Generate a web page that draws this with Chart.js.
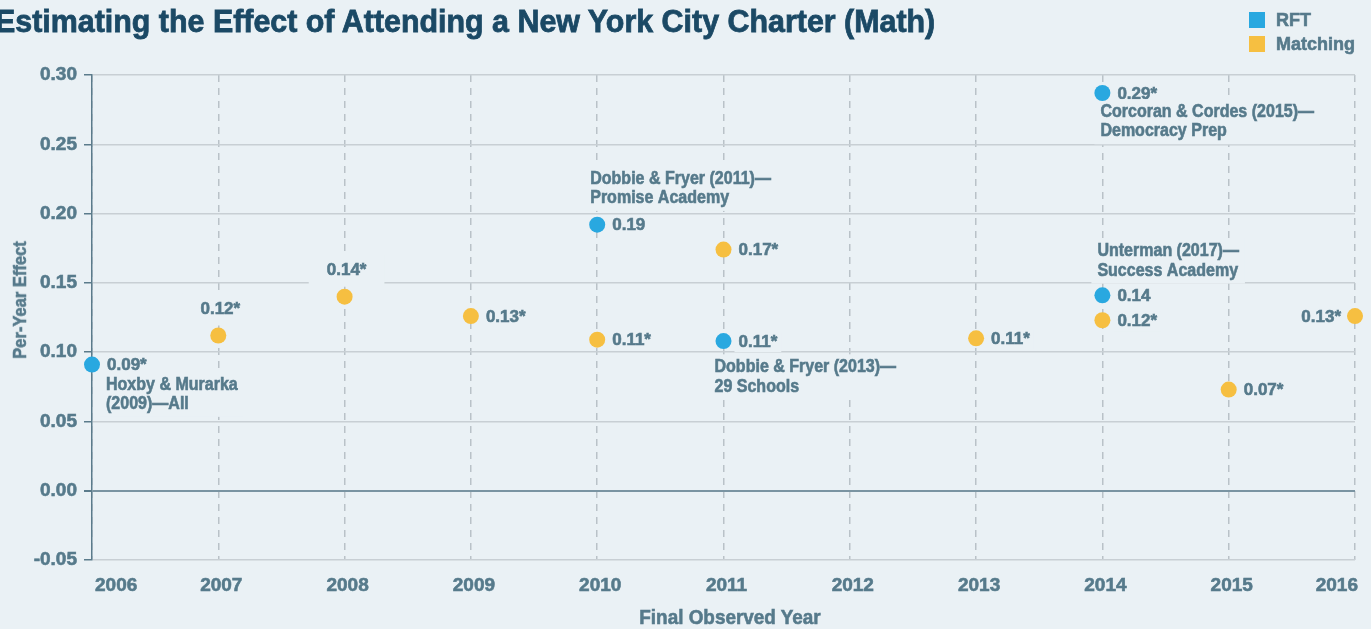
<!DOCTYPE html>
<html>
<head>
<meta charset="utf-8">
<script src="https://cdn.jsdelivr.net/npm/chart.js@4.4.0/dist/chart.umd.min.js"></script>
<style>
    html, body { margin: 0; padding: 0; background: #eaf1f5; }
    #wrap { position: relative; width: 1371px; height: 629px; overflow: hidden; }
    #title {
        position: absolute; left: -5px; top: 3px; line-height: 32px; white-space: nowrap;
        transform: scaleX(0.95); transform-origin: 0 0; -webkit-text-stroke: 0.8px #1b4965;
        font: bold 32px 'Liberation Sans', Arial, sans-serif; color: #1b4965;
    }
    #legend {
        position: absolute; left: 1249px; top: 12px; -webkit-text-stroke: 0.6px #567a8b;
        font: bold 18px 'Liberation Sans', Arial, sans-serif; color: #567a8b;
    }
    #legend div { display: flex; align-items: center; height: 16px; margin-bottom: 8px; }
    #legend span { display: inline-block; width: 16px; height: 16px; margin-right: 11px; }
    .axis-title {
        position: absolute; white-space: nowrap; color: #567a8b; -webkit-text-stroke: 0.6px #567a8b;
        font: bold 21px 'Liberation Sans', Arial, sans-serif;
    }
    #ytitle { left: 20px; top: 300px; font-size: 19px; transform: translate(-50%, -50%) rotate(-90deg) scaleX(0.87); }
    #xtitle { left: 730px; top: 617px; transform: translate(-50%, -50%) scaleX(0.9); }
    canvas { position: absolute; left: 0; top: 0; }
</style>
</head>
<body>
<div id="wrap">
    <canvas id="effectChart" width="1371" height="629"></canvas>
    <div id="title">Estimating the Effect of Attending a New York City Charter (Math)</div>
    <div id="legend">
        <div><span style="background:#29a8e0"></span>RFT</div>
        <div><span style="background:#f6bf41"></span>Matching</div>
    </div>
    <div id="ytitle" class="axis-title">Per-Year Effect</div>
    <div id="xtitle" class="axis-title">Final Observed Year</div>
</div>
<script>
// data
const yearTicks = [2006, 2007, 2008, 2009, 2010, 2011, 2012, 2013, 2014, 2015, 2016];
const effectTicks = [-0.05, 0.00, 0.05, 0.10, 0.15, 0.20, 0.25, 0.30];

const rftYears = [2006, 2010, 2011, 2014, 2014];
const rftEffects = [0.091, 0.192, 0.108, 0.287, 0.141];
const rftLabels = ['0.09*', '0.19', '0.11*', '0.29*', '0.14'];
const rftStudies = [
    ['Hoxby & Murarka', '(2009)\u2014All'],
    ['Dobbie & Fryer (2011)\u2014', 'Promise Academy'],
    ['Dobbie & Fryer (2013)\u2014', '29 Schools'],
    ['Corcoran & Cordes (2015)\u2014', 'Democracy Prep'],
    ['Unterman (2017)\u2014', 'Success Academy']
];

const matchYears = [2007, 2008, 2009, 2010, 2011, 2013, 2014, 2015, 2016];
const matchEffects = [0.112, 0.140, 0.126, 0.109, 0.174, 0.110, 0.123, 0.073, 0.126];
const matchLabels = ['0.12*', '0.14*', '0.13*', '0.11*', '0.17*', '0.11*', '0.12*', '0.07*', '0.13*'];

// where each label sits next to its point
const rftValuePlace = ['right', 'right', 'right', 'right', 'right'];
const rftStudyOffset = [[14, 20], [-7, -46], [-9, 26], [-2, 19], [-5, -44]];
const matchValuePlace = ['above', 'above', 'right', 'right', 'right', 'right', 'right', 'right', 'left'];

const BG = '#eaf1f5';
const INK = '#567a8b';
const SANS = "'Liberation Sans', Arial, sans-serif";

// draws a few lines of text on a patch of background so grid lines break behind them
function labelBlock(ctx, lines, x, y, align, lineH, padX, padY, sx) {
    let w = 0;
    lines.forEach(l => { w = Math.max(w, ctx.measureText(l).width * sx); });
    const left = align === 'left' ? x : align === 'right' ? x - w : x - w / 2;
    const top = y - lineH / 2;
    ctx.fillStyle = BG;
    ctx.fillRect(left - padX, top - padY, w + padX * 2, lineH * lines.length + padY * 2);
    ctx.fillStyle = INK;
    ctx.strokeStyle = INK;
    ctx.lineWidth = 0.6;
    ctx.textAlign = align;
    lines.forEach((l, i) => {
        ctx.save();
        ctx.translate(x, y + i * lineH);
        ctx.scale(sx, 1);
        ctx.fillText(l, 0, 0);
        ctx.strokeText(l, 0, 0);
        ctx.restore();
    });
}

const pointLabels = {
    id: 'pointLabels',
    beforeDatasetsDraw(chart) {
        const ctx = chart.ctx;
        ctx.save();
        ctx.textBaseline = 'middle';
        chart.data.datasets.forEach((ds, di) => {
            const meta = chart.getDatasetMeta(di);
            meta.data.forEach((pt, i) => {
                ctx.font = 'bold 17px ' + SANS;
                const place = ds.valuePlace[i];
                if (place === 'above') {
                    labelBlock(ctx, [ds.valueLabels[i]], pt.x + 2, pt.y - 26, 'center', 18, 18, 7, 1);
                } else if (place === 'left') {
                    labelBlock(ctx, [ds.valueLabels[i]], pt.x - 14, pt.y + 1, 'right', 18, 4, 1, 1);
                } else {
                    labelBlock(ctx, [ds.valueLabels[i]], pt.x + 15, pt.y + 1, 'left', 18, 4, 1, 1);
                }
                if (ds.studies) {
                    ctx.font = 'bold 18px ' + SANS;
                    const off = ds.studyOffset[i];
                    labelBlock(ctx, ds.studies[i], pt.x + off[0], pt.y + off[1], 'left', 19.5, 6, 3, 0.89);
                }
            });
        });
        ctx.restore();
    }
};

const chart = new Chart(document.getElementById('effectChart'), {
    type: 'scatter',
    data: {
        datasets: [{
            label: 'RFT',
            data: rftYears.map((yr, i) => ({ x: yr, y: rftEffects[i] })),
            backgroundColor: '#29a8e0',
            pointRadius: 8,
            borderWidth: 0,
            clip: false,
            valueLabels: rftLabels,
            valuePlace: rftValuePlace,
            studies: rftStudies,
            studyOffset: rftStudyOffset
        }, {
            label: 'Matching',
            data: matchYears.map((yr, i) => ({ x: yr, y: matchEffects[i] })),
            backgroundColor: '#f6bf41',
            pointRadius: 8,
            borderWidth: 0,
            clip: false,
            valueLabels: matchLabels,
            valuePlace: matchValuePlace
        }]
    },
    options: {
        responsive: false,
        animation: false,
        events: [],
        layout: { padding: { top: 75, right: 16, left: 0, bottom: 0 } },
        plugins: {
            legend: { display: false },
            tooltip: { enabled: false }
        },
        scales: {
            x: {
                type: 'linear',
                min: yearTicks[0],
                max: yearTicks[yearTicks.length - 1],
                afterBuildTicks: s => { s.ticks = yearTicks.map(v => ({ value: v })); },
                afterFit: s => { s.height = 69; s.paddingLeft = 0; s.paddingRight = 0; },
                ticks: {
                    align: 'inner',
                    labelOffset: 3,
                    padding: 14,
                    maxRotation: 0,
                    autoSkip: false,
                    color: INK,
                    textStrokeColor: INK,
                    textStrokeWidth: 0.6,
                    font: { family: SANS, size: 19, weight: 'bold' },
                    callback: v => String(v)
                },
                grid: { color: '#b9c2c8', lineWidth: 1.5, drawTicks: false },
                border: { display: false, dash: [7, 6] }
            },
            y: {
                min: effectTicks[0],
                max: effectTicks[effectTicks.length - 1],
                afterBuildTicks: s => { s.ticks = effectTicks.map(v => ({ value: v })); },
                afterFit: s => { s.width = 92; s.paddingTop = 0; s.paddingBottom = 0; },
                ticks: {
                    padding: 7,
                    color: INK,
                    textStrokeColor: INK,
                    textStrokeWidth: 0.6,
                    font: { family: SANS, size: 19, weight: 'bold' },
                    callback: v => v.toFixed(2)
                },
                grid: {
                    color: c => (c.tick && Math.abs(c.tick.value) < 1e-9) ? '#7a94a2' : '#c8cfd4',
                    lineWidth: c => (c.tick && Math.abs(c.tick.value) < 1e-9) ? 2 : 1.5,
                    tickColor: '#5b7b8b',
                    tickLength: 8
                },
                border: { display: true, color: '#5b7b8b', width: 1.5 }
            }
        }
    },
    plugins: [pointLabels]
});
</script>
</body>
</html>
